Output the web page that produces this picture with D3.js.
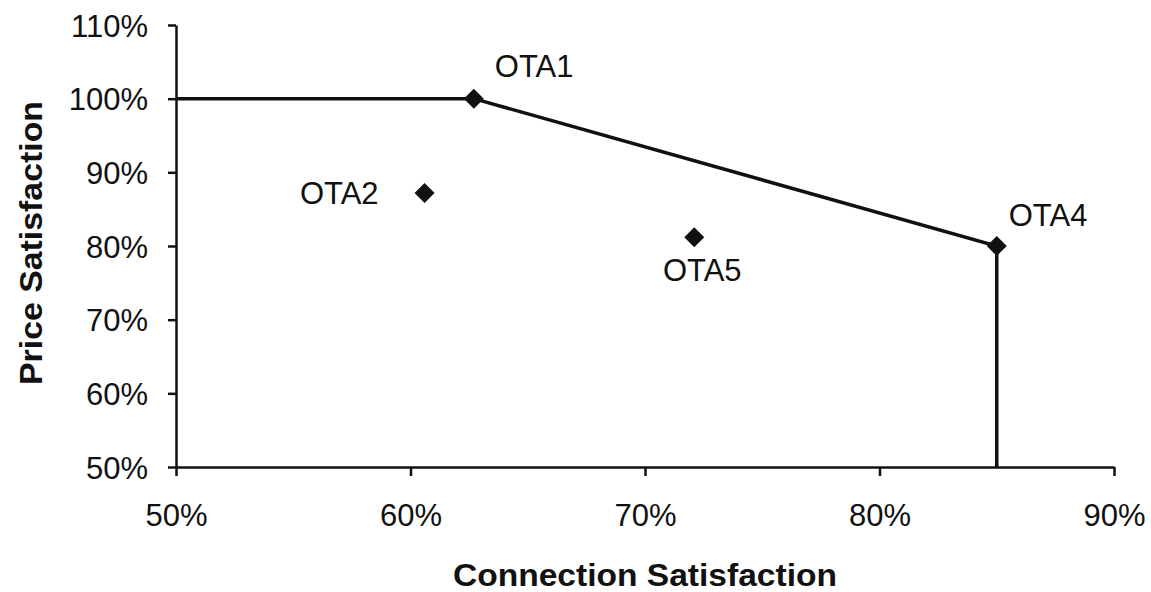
<!DOCTYPE html>
<html><head><meta charset="utf-8">
<script src="https://cdn.jsdelivr.net/npm/d3@7"></script>
<style>
html,body{margin:0;padding:0;background:#fff;}
text{font-family:"Liberation Sans",Arial,Helvetica,sans-serif;fill:#111;}
</style></head>
<body><svg id="chart" width="1151" height="592"></svg>
<script>
const otaNames = ["OTA1","OTA2","OTA4","OTA5"];
const connectionSat = [0.627, 0.606, 0.850, 0.721];
const priceSat = [1.000, 0.872, 0.800, 0.812];
const frontierX = [0.50, 0.627, 0.850, 0.850];
const frontierY = [1.00, 1.000, 0.800, 0.500];
const xTicks = [0.5,0.6,0.7,0.8,0.9];
const yTicks = [0.5,0.6,0.7,0.8,0.9,1.0,1.1];
const xTitle = "Connection Satisfaction";
const yTitle = "Price Satisfaction";

const W=1151,H=592, m={l:176,t:25,r:37,b:125};
const svg=d3.select("#chart");
const x=d3.scaleLinear().domain([0.5,0.9]).range([m.l,W-m.r]);
const y=d3.scaleLinear().domain([0.5,1.1]).range([H-m.b,m.t]);
const fmt=d3.format(".0%");

const gx=svg.append("g").attr("transform",`translate(0,${y(0.5)})`)
 .call(d3.axisBottom(x).tickValues(xTicks).tickFormat(fmt).tickSize(9).tickSizeOuter(0).tickPadding(28));
const gy=svg.append("g").attr("transform",`translate(${x(0.5)},0)`)
 .call(d3.axisLeft(y).tickValues(yTicks).tickFormat(fmt).tickSize(8).tickSizeOuter(0).tickPadding(20));
[gx,gy].forEach(g=>{
  g.select(".domain").attr("stroke","#111").attr("stroke-width",2.5);
  g.selectAll(".tick line").attr("stroke","#111").attr("stroke-width",2.5);
  g.selectAll(".tick text").attr("font-size",31).attr("fill","#111")
   .style("font-family",'"Liberation Sans",Arial,sans-serif');
});
gy.selectAll(".tick text").attr("dy","0.36em");
gx.selectAll(".tick text").attr("dy","0.72em");

const pts=frontierX.map((v,i)=>[v,frontierY[i]]);
svg.append("path").datum(pts)
 .attr("d",d3.line().x(d=>x(d[0])).y(d=>y(d[1])))
 .attr("fill","none").attr("stroke","#111").attr("stroke-width",3.5);

const sym=d3.symbol().type(d3.symbolSquare).size(200);
svg.selectAll(".pt").data(otaNames).join("path")
 .attr("transform",(d,i)=>`translate(${x(connectionSat[i])},${y(priceSat[i])}) rotate(45)`)
 .attr("d",sym).attr("fill","#111");

const labelOff = {OTA1:[21,-33,"start"],OTA2:[-46,0,"end"],OTA4:[12,-31,"start"],OTA5:[8,33,"middle"]};
svg.selectAll(".lbl").data(otaNames).join("text")
 .attr("x",(d,i)=>x(connectionSat[i])+labelOff[d][0])
 .attr("y",(d,i)=>y(priceSat[i])+labelOff[d][1])
 .attr("dy","0.36em").attr("text-anchor",d=>labelOff[d][2])
 .attr("font-size",31).text(d=>d);

svg.append("text").attr("x",645).attr("y",586)
 .attr("text-anchor","middle").attr("font-size",32).attr("font-weight","bold")
 .attr("textLength",384).attr("lengthAdjust","spacingAndGlyphs")
 .text(xTitle);
svg.append("text").attr("transform","translate(42,243) rotate(-90)")
 .attr("text-anchor","middle").attr("font-size",31).attr("font-weight","bold")
 .attr("textLength",284).attr("lengthAdjust","spacingAndGlyphs")
 .text(yTitle);
</script></body></html>
